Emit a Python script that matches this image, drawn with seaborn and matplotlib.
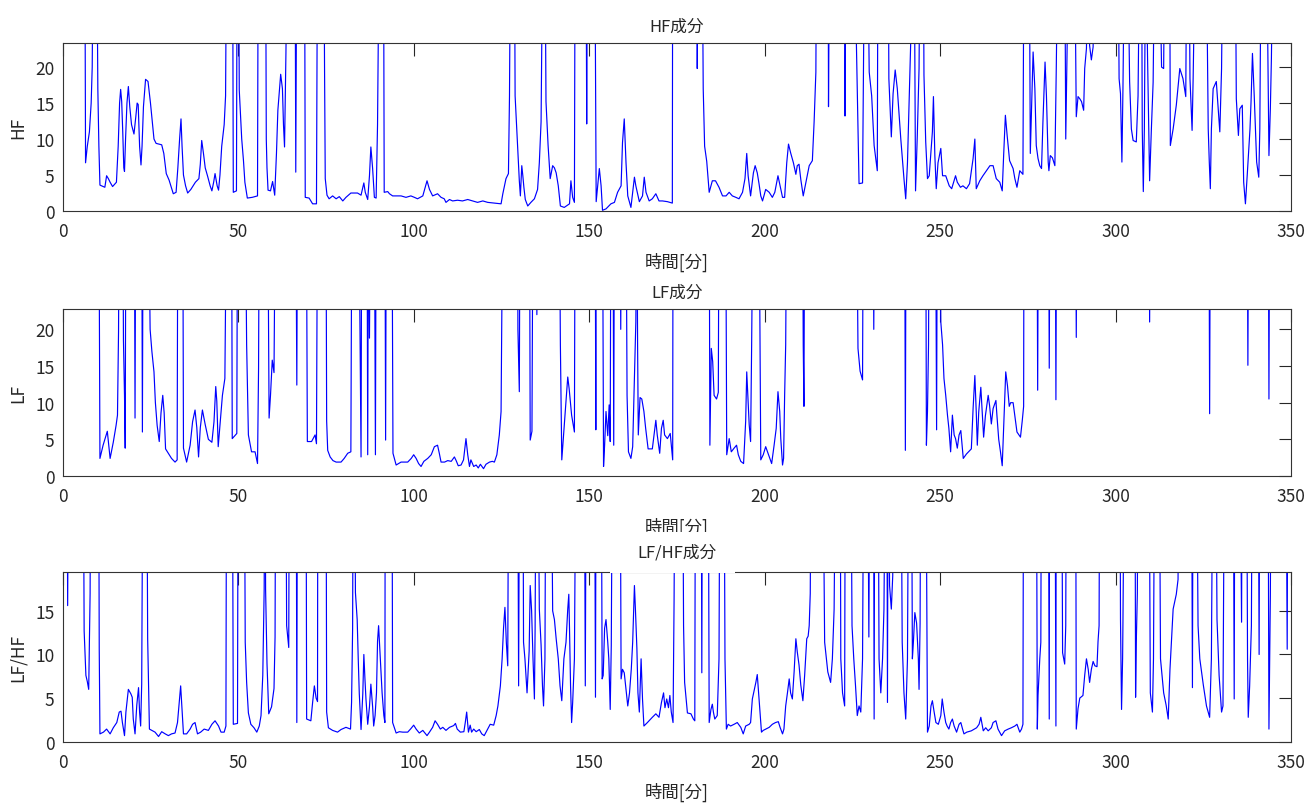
import numpy as np
import pandas as pd
import matplotlib
matplotlib.use('Agg')
import matplotlib.pyplot as plt
import seaborn as sns
from matplotlib.patches import Rectangle

# (minute, value) readings; 40 = above the visible range
hf_points = [
    (6.3, 40), (6.5, 6.7), (7.0, 9.0), (7.6, 11), (8.1, 15), (8.4, 20), (8.7, 40), (9.7, 40), (10.0, 17),
    (10.3, 9), (10.6, 3.6), (11.5, 3.4), (12.0, 3.3), (12.5, 4.9), (13.0, 4.5), (13.5, 4.0), (14.2, 3.4),
    (15.3, 4.0), (15.8, 9), (16.2, 15), (16.5, 16.9), (16.8, 15.2), (17.1, 11), (17.4, 6), (17.6, 5.5),
    (17.9, 10), (18.3, 15), (18.7, 17.3), (19.1, 14.5), (19.6, 12), (20.3, 10.7), (20.8, 13), (21.2, 15),
    (21.5, 14.8), (21.9, 9), (22.3, 6.4), (22.6, 9), (23.0, 14.5), (23.6, 18.3), (24.3, 18.0), (25.0, 15),
    (25.6, 12), (26.0, 10), (26.6, 9.4), (28.2, 9.2), (28.8, 8), (29.5, 5.2), (30.3, 4.3), (31.0, 3.2),
    (31.5, 2.4), (32.3, 2.6), (32.8, 6), (33.3, 10), (33.7, 12.8), (34.0, 9), (34.4, 5), (35.0, 3.5),
    (35.6, 2.5), (36.5, 3.0), (37.8, 4.0), (38.8, 4.5), (39.2, 6.5), (39.6, 9.8), (40.1, 8), (40.6, 6),
    (41.3, 4.8), (42.0, 3.5), (42.5, 2.8), (43.0, 4.0), (43.4, 5.2), (44.0, 3.5), (44.4, 2.9), (44.8, 5),
    (45.3, 9), (46.0, 12), (46.4, 16), (46.7, 40), (48.4, 40), (48.6, 2.6), (49.5, 2.8), (49.7, 40),
    (50.1, 40), (50.3, 16.8), (50.6, 14), (51.0, 10), (51.5, 7), (51.9, 4), (52.6, 1.8), (54.0, 1.9),
    (55.5, 2.1), (55.7, 40), (57.8, 40), (58.0, 10), (58.2, 6), (58.5, 2.9), (59.2, 2.8), (59.8, 4.1),
    (60.4, 2.2), (60.9, 8), (61.3, 14), (62.1, 19), (62.6, 17), (62.9, 12), (63.2, 8.9), (63.6, 22),
    (64.0, 40), (66.2, 40), (66.4, 5.4), (66.7, 40), (68.9, 40), (69.1, 1.9), (70.2, 1.8), (71.2, 1.0),
    (72.3, 1.0), (72.6, 40), (74.4, 40), (74.6, 20), (74.8, 4.5), (75.3, 2.2), (75.9, 1.7), (76.9, 2.1),
    (77.9, 1.7), (78.8, 2.0), (79.8, 1.4), (80.7, 1.9), (82.1, 2.5), (84.0, 2.5), (85.0, 2.2), (85.8, 3.9),
    (86.2, 2.6), (86.9, 1.6), (87.4, 4.9), (87.8, 8.9), (88.3, 5.9), (88.8, 1.9), (89.3, 1.8), (89.7, 12),
    (90.2, 40), (91.4, 40), (91.6, 2.6), (92.6, 2.7), (93.1, 2.4), (94.0, 2.1), (96.4, 2.1), (97.8, 1.9),
    (99.2, 2.1), (100.2, 1.9), (101.1, 1.7), (102.6, 2.1), (103.0, 2.8), (103.8, 4.2), (104.5, 3.0),
    (105.4, 2.1), (106.8, 2.4), (107.8, 1.9), (108.7, 1.7), (109.2, 1.2), (110.2, 1.6), (111.1, 1.4),
    (112.5, 1.5), (113.9, 1.4), (115.4, 1.6), (116.8, 1.4), (118.2, 1.2), (119.7, 1.4), (121.1, 1.2),
    (123.0, 1.1), (124.9, 1.0), (125.4, 2.4), (126.3, 4.5), (127.0, 5.2), (127.3, 16), (127.6, 40),
    (128.7, 40), (128.9, 16), (129.6, 9), (130.1, 4.2), (130.4, 2.1), (130.8, 6.3), (131.1, 4.9),
    (131.4, 3.3), (131.8, 1.6), (132.5, 0.7), (133.4, 1.2), (134.4, 1.7), (135.3, 3.0), (135.8, 6.7),
    (136.3, 12.4), (136.8, 40), (137.4, 40), (137.7, 15.2), (138.3, 9.1), (138.9, 4.5), (139.6, 6.3),
    (140.1, 6.0), (140.6, 5.3), (141.2, 3.5), (141.8, 0.7), (142.9, 0.5), (144.4, 1.0), (144.8, 4.2),
    (145.3, 1.9), (145.8, 1.2), (146.0, 40), (149.1, 40), (149.3, 12.1), (149.5, 40), (151.6, 40),
    (152.0, 1.3), (152.9, 5.9), (153.4, 3.5), (153.8, 0.1), (154.8, 0.3), (156.2, 1.0), (157.2, 1.2),
    (158.1, 2.6), (159.1, 3.5), (159.5, 9.5), (160.0, 12.8), (160.5, 6.7), (161.0, 2.1), (161.9, 0.5),
    (162.9, 4.7), (163.3, 3.5), (164.3, 1.3), (165.2, 2.1), (165.7, 4.7), (166.2, 2.6), (167.1, 1.4),
    (168.0, 1.7), (169.0, 2.4), (169.9, 1.4), (170.9, 1.4), (172.3, 1.3), (173.7, 1.1), (173.8, 40),
    (180.7, 40), (180.8, 19.8), (181.0, 40), (182.2, 40), (182.5, 17), (182.9, 9), (183.5, 6.9),
    (184.2, 2.6), (185.1, 4.2), (186.0, 4.2), (187.0, 3.3), (188.0, 2.1), (189.0, 2.1), (189.9, 2.6),
    (190.8, 2.1), (191.8, 1.9), (192.7, 1.7), (193.7, 2.6), (194.4, 4.5), (194.9, 8.0), (195.3, 4.9),
    (196.0, 2.1), (196.8, 5.3), (197.3, 6.3), (197.9, 5.3), (198.4, 3.8), (198.9, 2.1), (199.4, 1.4),
    (200.3, 3.0), (201.3, 2.6), (202.2, 1.9), (202.9, 2.6), (203.8, 4.9), (204.4, 3.5), (205.1, 1.9),
    (205.7, 1.9), (206.3, 6.7), (206.8, 9.3), (207.4, 8.1), (208.2, 6.7), (208.9, 5.1), (209.3, 6.3),
    (209.8, 6.5), (210.3, 4.4), (211.0, 2.1), (211.7, 3.8), (212.7, 6.3), (213.6, 7.0), (214.1, 12.4),
    (214.6, 19.3), (214.8, 40), (218.1, 40), (218.2, 14.5), (218.5, 40), (222.8, 40), (222.9, 13.2),
    (223.2, 40), (225.5, 40), (226.9, 3.8), (227.9, 3.9), (228.5, 40), (229.3, 40), (229.8, 19.3),
    (230.5, 16), (231.2, 9.1), (232.1, 5.6), (232.3, 40), (235.2, 40), (235.4, 18.4), (236.1, 10.3),
    (236.6, 16.3), (237.2, 19.6), (237.8, 17), (238.8, 10), (239.7, 4.5), (240.2, 1.7), (240.7, 6.7),
    (241.2, 16), (241.6, 23), (241.8, 40), (242.6, 40), (243.0, 2.8), (243.5, 10.5), (244.0, 19.8),
    (244.3, 40), (245.2, 40), (245.4, 18.9), (245.9, 9.6), (246.4, 4.5), (246.9, 4.9), (247.8, 11),
    (248.1, 15.9), (248.5, 7.7), (248.9, 3.1), (249.4, 6.7), (250.2, 8.7), (250.7, 4.9), (251.6, 4.9),
    (252.6, 3.5), (253.3, 3.1), (254.4, 4.9), (254.9, 4.0), (255.8, 3.3), (256.5, 3.5), (257.5, 3.1),
    (258.4, 3.8), (259.4, 7.3), (259.9, 10), (260.3, 3.1), (261.3, 4.2), (262.2, 4.9), (263.2, 5.6),
    (264.2, 6.3), (265.1, 6.3), (266.0, 4.5), (267.0, 4.0), (267.7, 2.8), (268.1, 7.7), (268.6, 13.3),
    (269.1, 10.5), (269.8, 7.0), (270.8, 5.9), (271.3, 4.5), (271.9, 3.3), (272.7, 5.6), (273.6, 5.1),
    (273.9, 40), (275.4, 40), (275.7, 8.0), (276.0, 13.3), (276.5, 22.1), (277.0, 17), (277.4, 9.1),
    (277.9, 7.3), (278.4, 6.3), (278.9, 5.9), (279.3, 12.4), (279.9, 20.7), (280.3, 16), (280.8, 6.8),
    (281.0, 5.6), (281.4, 7.7), (282.0, 7.4), (282.7, 6.3), (283.1, 19.8), (283.6, 40), (285.5, 40),
    (285.8, 10), (286.2, 23), (286.4, 40), (288.3, 40), (288.8, 13.1), (289.3, 15.9), (289.8, 15.6),
    (290.3, 15.2), (290.9, 14.0), (291.2, 19.8), (291.7, 22.6), (292.2, 40), (292.6, 23), (293.1, 21),
    (293.6, 22.8), (294.1, 40), (300.7, 40), (301.0, 18.4), (301.4, 16.3), (301.8, 6.8), (302.1, 17),
    (302.6, 40), (303.4, 40), (304.0, 18), (304.5, 11.4), (305.0, 9.8), (305.9, 9.6), (306.4, 16),
    (306.9, 40), (307.4, 40), (307.6, 11.4), (307.9, 2.7), (308.2, 11.4), (308.6, 40), (309.1, 21.7),
    (309.7, 4.2), (310.2, 11.4), (310.7, 17.9), (311.2, 40), (312.4, 40), (313.1, 20), (313.7, 19.8),
    (314.0, 40), (315.4, 40), (315.6, 9.1), (316.4, 11.4), (317.3, 14.7), (318.3, 19.8), (319.2, 18.4),
    (320.0, 15.9), (320.3, 40), (320.9, 40), (321.2, 18.4), (321.8, 11.2), (322.1, 18.4), (322.8, 40),
    (325.8, 40), (326.4, 11.4), (326.7, 6.8), (327.0, 3.1), (327.3, 11.4), (327.8, 17), (328.7, 18),
    (329.7, 11), (330.2, 19.8), (330.6, 40), (334.1, 40), (334.4, 15.6), (335.0, 10.5), (335.4, 14.2),
    (336.1, 14.7), (336.5, 4), (337.0, 1.0), (337.5, 4.9), (338.3, 11.4), (338.6, 15.2), (339.0, 21.9),
    (339.5, 16.1), (340.2, 6.8), (340.8, 4.7), (341.1, 11.4), (341.5, 40), (343.0, 40), (343.7, 7.7),
    (344.1, 14.2), (344.4, 21.2), (344.9, 40),
]

lf_points = [
    (10.3, 40), (10.6, 2.4), (11.5, 4.2), (12.7, 6.1), (13.5, 2.4), (14.4, 4.6), (15.2, 6.9), (15.6, 8.3),
    (15.9, 19.7), (16.1, 40), (17.1, 40), (17.3, 18.5), (17.6, 11), (17.8, 3.8), (18.0, 40), (20.4, 40),
    (20.6, 7.9), (20.8, 40), (22.5, 40), (22.7, 6.0), (22.9, 40), (24.4, 40), (24.9, 20), (25.4, 17),
    (26.0, 14.2), (26.4, 10), (26.9, 6.9), (27.5, 4.7), (28.0, 8.6), (28.5, 11), (28.9, 8.6), (29.3, 3.7),
    (30.1, 3.1), (31.0, 2.4), (32.0, 1.9), (32.6, 2.2), (32.8, 40), (34.2, 40), (34.4, 3.8), (35.3, 1.9),
    (36.3, 4.2), (37.0, 7.4), (37.7, 9.0), (38.2, 6.6), (38.7, 2.6), (39.2, 6.6), (39.8, 9.0), (40.6, 7.0),
    (41.5, 5.0), (42.5, 4.6), (43.1, 7.4), (43.6, 12.2), (43.9, 10.2), (44.3, 4.0), (44.8, 6.9), (45.5, 11),
    (46.2, 13.3), (46.7, 40), (48.1, 40), (48.3, 5.1), (49.6, 5.8), (49.8, 40), (52.0, 40), (52.4, 17.9),
    (52.9, 5.6), (53.8, 3.3), (54.8, 3.3), (55.5, 1.7), (55.8, 14.7), (56.0, 40), (58.4, 40), (58.8, 7.9),
    (59.2, 11), (59.7, 15.8), (60.2, 14.1), (60.6, 40), (66.4, 40), (66.7, 12.4), (66.9, 40), (69.4, 40),
    (69.7, 4.7), (70.9, 4.7), (71.9, 5.6), (72.3, 4.4), (72.6, 40), (75.0, 40), (75.2, 7.5), (75.5, 3.5),
    (76.2, 2.6), (77.0, 2.1), (77.9, 1.9), (79.3, 1.9), (80.2, 2.4), (81.2, 3.1), (82.1, 3.3), (82.4, 40),
    (84.3, 40), (84.7, 20), (85.0, 2.6), (85.2, 40), (86.7, 40), (86.9, 2.9), (87.1, 40), (87.4, 18.8),
    (87.7, 40), (88.8, 40), (89.1, 2.9), (89.3, 40), (91.8, 40), (92.0, 4.9), (92.2, 40), (93.8, 40),
    (94.1, 3.1), (95.0, 1.5), (96.4, 1.9), (98.3, 1.9), (99.3, 2.4), (100.0, 2.9), (100.7, 2.4),
    (101.4, 1.7), (102.1, 1.3), (102.9, 2.0), (104.0, 2.4), (105.0, 2.9), (105.9, 4.0), (106.8, 4.2),
    (107.3, 3.1), (107.8, 1.9), (108.8, 1.9), (109.7, 2.1), (110.7, 2.0), (111.6, 2.6), (112.1, 2.1),
    (112.7, 1.4), (113.5, 1.5), (114.2, 2.2), (114.9, 5.1), (115.4, 2.9), (115.9, 1.3), (116.3, 2.2),
    (117.1, 1.3), (117.8, 1.5), (118.4, 1.1), (119.0, 1.6), (119.9, 1.0), (120.6, 1.6), (121.6, 1.9),
    (122.4, 2.0), (123.0, 1.9), (123.7, 2.9), (124.4, 5.6), (124.9, 8.8), (125.4, 40), (129.6, 40),
    (129.7, 20), (130.1, 11.5), (130.3, 40), (133.0, 40), (133.2, 4.9), (133.7, 6.1), (134.0, 40),
    (134.9, 40), (135.1, 22), (135.3, 40), (141.5, 40), (141.8, 17.9), (142.2, 2.2), (142.7, 5.6),
    (143.4, 10.2), (143.9, 13.5), (144.3, 11.9), (145.0, 8.3), (145.8, 6.0), (146.0, 40), (151.7, 40),
    (151.9, 6.3), (152.0, 40), (153.8, 40), (154.1, 1.3), (154.4, 4.2), (154.8, 8.8), (155.3, 5.5),
    (155.7, 9.7), (156.0, 4.7), (156.2, 40), (156.8, 40), (157.0, 4.2), (157.2, 40), (158.8, 40),
    (159.0, 20), (159.2, 40), (160.5, 40), (160.8, 11), (161.2, 3.3), (161.9, 2.4), (162.4, 4.0),
    (162.9, 13.3), (163.3, 21), (163.6, 40), (163.8, 17.9), (164.0, 5.6), (164.5, 10.7), (165.0, 10.5),
    (165.6, 8.8), (166.1, 6.5), (166.8, 3.7), (168.0, 3.7), (169.0, 7.6), (169.4, 5.6), (170.1, 3.1),
    (170.6, 6.5), (171.1, 7.6), (171.5, 5.6), (172.3, 5.1), (173.1, 5.8), (173.5, 3.8), (173.8, 2.2),
    (173.9, 40), (184.2, 40), (184.4, 4.2), (184.6, 11), (184.8, 17.4), (185.2, 15.6), (185.6, 11),
    (186.3, 10.5), (186.8, 11.4), (187.0, 40), (188.9, 40), (189.2, 2.9), (189.9, 5.1), (190.5, 3.3),
    (191.3, 3.8), (192.0, 4.2), (192.5, 2.9), (193.2, 2.0), (194.0, 1.7), (194.6, 7.5), (194.9, 14.2),
    (195.2, 11), (195.6, 7.0), (196.0, 4.7), (196.3, 17.9), (196.7, 40), (198.4, 40), (198.9, 2.2),
    (199.6, 2.9), (200.3, 4.0), (201.1, 2.9), (202.0, 1.7), (202.7, 4.2), (203.3, 6.5), (203.8, 11.5),
    (204.3, 8.8), (204.6, 5.1), (205.1, 1.5), (205.4, 2.4), (205.7, 11), (206.0, 17.9), (206.3, 40),
    (210.8, 40), (211.0, 17.9), (211.2, 9.5), (211.4, 40), (226.2, 40), (226.6, 17.4), (227.2, 14.3),
    (227.9, 13.1), (228.1, 40), (230.9, 40), (231.1, 20), (231.3, 40), (239.9, 40), (240.1, 3.5),
    (240.3, 40), (245.9, 40), (246.1, 4.2), (246.4, 8.8), (246.7, 17.9), (246.9, 40), (248.7, 40),
    (249.0, 6.3), (249.2, 40), (249.9, 40), (250.2, 21), (250.7, 17.9), (251.1, 13.3), (251.6, 11),
    (252.1, 8.3), (252.5, 6.5), (253.0, 3.3), (253.5, 8.3), (254.0, 5.6), (254.4, 5.1), (254.9, 3.8),
    (255.4, 5.6), (255.9, 6.2), (256.2, 4.5), (256.6, 2.4), (257.5, 3.0), (258.9, 3.7), (259.4, 9.2),
    (259.9, 13.7), (260.3, 8.7), (260.6, 4.2), (261.0, 8.7), (261.6, 12.1), (262.0, 8.7), (262.4, 5.3),
    (262.9, 8.2), (263.7, 11), (264.1, 9.6), (264.6, 7.1), (265.1, 9.2), (265.9, 10.3), (266.2, 8.2),
    (266.7, 5.0), (267.2, 3.3), (267.7, 1.4), (268.1, 6.4), (268.4, 10.3), (268.7, 14.2), (269.2, 12.3),
    (269.7, 9.5), (270.1, 10), (270.8, 10), (271.3, 8.2), (271.9, 6.0), (272.9, 5.3), (273.4, 7.5),
    (273.8, 9.5), (273.9, 40), (277.6, 40), (277.8, 11.7), (278.0, 40), (280.9, 40), (281.1, 14.7),
    (281.3, 40), (282.8, 40), (283.0, 10.4), (283.2, 40), (288.6, 40), (288.8, 18.9), (289.0, 40),
    (309.5, 40), (309.7, 21), (309.9, 40), (326.6, 40), (326.8, 8.5), (327.0, 40), (337.5, 40),
    (337.7, 15.1), (337.9, 40), (343.5, 40), (343.7, 10.5), (343.9, 40), (345.0, 40),
]

ratio_points = [
    (1.2, 40), (1.4, 15.6), (1.7, 40), (5.8, 40), (6.1, 12.7), (6.6, 7.6), (7.0, 6.9), (7.4, 6.0),
    (7.8, 17), (8.0, 40), (10.2, 40), (10.4, 10.6), (10.6, 0.9), (11.6, 1.1), (12.5, 1.45), (13.5, 0.9),
    (14.4, 1.6), (15.4, 2.2), (16.1, 3.4), (16.6, 3.5), (17.0, 2.2), (17.6, 0.7), (18.0, 3.4), (18.7, 6.0),
    (19.4, 5.5), (19.8, 5.1), (20.1, 2.6), (20.6, 0.9), (21.1, 4.2), (21.6, 6.2), (21.9, 3.4), (22.2, 1.8),
    (22.5, 6.6), (22.9, 40), (23.9, 40), (24.2, 11.8), (24.7, 1.45), (25.4, 1.3), (26.3, 1.1), (27.3, 0.6),
    (28.2, 1.15), (29.2, 0.9), (30.1, 0.7), (31.0, 0.9), (32.0, 1.0), (32.7, 2.2), (33.2, 4.5), (33.6, 6.4),
    (34.1, 3.0), (34.4, 0.9), (35.3, 0.9), (36.3, 1.45), (37.0, 2.0), (37.7, 2.2), (38.4, 0.9), (39.3, 1.1),
    (40.3, 1.45), (41.5, 1.3), (42.5, 2.0), (43.4, 2.4), (44.4, 1.8), (45.1, 1.1), (46.0, 1.1), (46.5, 1.8),
    (46.7, 40), (48.3, 40), (48.6, 2.0), (49.8, 2.1), (50.0, 40), (51.7, 40), (52.0, 11.4), (52.4, 6.8),
    (52.9, 3.3), (53.6, 2.0), (54.5, 1.6), (55.3, 1.1), (56.0, 1.8), (56.5, 3.0), (57.0, 7.6), (57.4, 17.5),
    (57.6, 40), (57.8, 17.5), (58.2, 9), (58.7, 3.2), (59.5, 4.0), (60.2, 6.1), (60.5, 12), (60.7, 40),
    (63.5, 40), (63.8, 13.3), (64.4, 10.8), (64.6, 40), (66.5, 40), (66.7, 2.2), (66.9, 40), (69.3, 40),
    (69.5, 2.6), (70.7, 2.4), (71.2, 4.5), (71.7, 6.4), (72.2, 5.0), (72.6, 4.6), (72.7, 40), (75.0, 40),
    (75.2, 3.4), (75.7, 1.6), (76.9, 1.3), (78.3, 1.1), (79.3, 1.4), (80.7, 1.65), (82.0, 1.45),
    (82.3, 4.5), (82.6, 13), (82.8, 40), (83.1, 40), (83.4, 17.1), (83.9, 14), (84.2, 9.5), (84.5, 5.5),
    (85.0, 1.4), (85.5, 5.5), (85.8, 10), (86.1, 7.3), (86.4, 4.9), (86.9, 2.0), (87.4, 4.0), (87.8, 6.6),
    (88.3, 4.0), (88.6, 1.8), (89.0, 3.0), (89.4, 5.6), (89.7, 11.5), (90.0, 13.3), (90.5, 9.5),
    (91.0, 5.6), (91.5, 3.0), (91.8, 2.2), (91.9, 40), (93.8, 40), (94.0, 2.2), (95.0, 1.0), (95.9, 1.15),
    (96.9, 1.1), (98.3, 1.1), (99.2, 1.5), (100.0, 1.9), (100.7, 1.45), (101.6, 1.0), (102.6, 1.3),
    (103.8, 0.7), (104.5, 1.1), (105.4, 1.65), (106.1, 2.4), (106.8, 2.0), (107.6, 1.45), (108.3, 1.65),
    (109.2, 1.3), (110.2, 1.65), (111.4, 1.85), (111.9, 2.1), (112.4, 1.45), (113.3, 1.1), (114.3, 1.15),
    (114.7, 2.2), (115.1, 3.4), (115.6, 1.1), (116.1, 1.9), (116.5, 1.1), (117.1, 1.45), (117.8, 1.15),
    (118.7, 1.4), (119.4, 0.9), (120.1, 0.7), (121.1, 1.45), (121.8, 2.0), (122.8, 1.9), (123.5, 3.0),
    (124.0, 4.1), (124.7, 6.4), (125.2, 9.5), (125.6, 13), (126.0, 15.4), (126.4, 11.4), (126.8, 8.7),
    (127.1, 40), (129.6, 40), (129.9, 6.4), (130.2, 40), (131.1, 40), (131.3, 11.4), (131.7, 9.5),
    (132.3, 5.6), (132.9, 10.4), (133.2, 17.9), (133.6, 15), (134.0, 9.5), (134.4, 4.9), (134.6, 13),
    (134.9, 40), (135.3, 40), (135.8, 15.2), (136.3, 11.1), (136.7, 6.4), (137.0, 4.1), (137.4, 9.5),
    (137.7, 40), (139.1, 40), (139.6, 15), (140.1, 14), (140.6, 11.8), (141.2, 9.5), (141.7, 6.4),
    (142.2, 4.7), (142.8, 9.5), (143.4, 11.4), (143.9, 15.2), (144.2, 16.9), (144.4, 13), (144.7, 6.4),
    (145.0, 2.2), (145.3, 4.5), (145.8, 9.5), (146.3, 40), (148.6, 40), (148.9, 6.4), (149.2, 40),
    (151.5, 40), (151.8, 5.1), (152.0, 40), (153.4, 40), (153.7, 7.2), (154.0, 7.6), (154.4, 13),
    (154.8, 14), (155.3, 11.4), (155.6, 9.5), (156.0, 3.7), (156.3, 11), (156.7, 40), (158.8, 40),
    (159.1, 7.2), (159.5, 8.3), (160.0, 7.9), (160.5, 6.0), (161.0, 4.1), (161.5, 5.6), (162.0, 8.3),
    (162.4, 11.4), (162.9, 17.9), (163.2, 15), (163.6, 10.7), (163.9, 5.6), (164.3, 3.4), (164.8, 9.5),
    (165.2, 4.9), (165.6, 1.8), (166.6, 2.2), (168.0, 2.8), (169.0, 3.2), (169.9, 2.8), (170.6, 4.5),
    (171.2, 5.6), (171.6, 3.9), (172.1, 4.9), (172.6, 3.9), (173.0, 5.3), (173.4, 3.4), (173.9, 2.2),
    (174.2, 16.3), (174.5, 40), (176.6, 40), (176.9, 13.3), (177.2, 6.8), (178.0, 3.3), (179.0, 3.2),
    (179.7, 2.6), (180.1, 2.4), (180.3, 40), (181.9, 40), (182.1, 7.9), (182.3, 40), (183.9, 40),
    (184.2, 2.2), (184.7, 3.7), (185.1, 4.3), (185.4, 3.4), (185.8, 2.6), (186.5, 3.0), (187.0, 9.5),
    (187.3, 40), (188.4, 40), (188.7, 9.5), (189.1, 1.45), (189.6, 2.0), (190.3, 1.8), (191.3, 2.0),
    (192.2, 2.2), (193.2, 1.65), (193.9, 0.9), (194.6, 1.8), (195.6, 2.0), (196.0, 2.2), (196.5, 4.9),
    (197.5, 6.8), (197.9, 7.7), (198.4, 4.9), (199.1, 1.1), (199.6, 1.3), (200.3, 1.45), (201.3, 1.65),
    (202.2, 2.0), (203.1, 2.2), (203.9, 2.3), (204.4, 1.65), (205.1, 0.9), (205.5, 1.45), (206.0, 4.1),
    (206.5, 5.6), (207.0, 7.2), (207.4, 5.6), (207.9, 4.9), (208.4, 8.0), (208.9, 11.8), (209.3, 10.3),
    (209.8, 8.8), (210.3, 6.5), (210.9, 4.7), (211.4, 7.6), (212.0, 11.8), (212.4, 12.1), (212.7, 13.3),
    (213.0, 17), (213.3, 40), (216.5, 40), (217.1, 11.4), (218.0, 8.0), (218.8, 6.8), (219.3, 9.5),
    (219.8, 15.2), (220.3, 40), (221.5, 40), (221.7, 9.5), (222.2, 5.6), (222.8, 4.1), (223.0, 40),
    (224.5, 40), (224.9, 13.3), (225.4, 9.5), (225.9, 6.4), (226.4, 3.0), (226.9, 4.1), (227.4, 3.4),
    (227.9, 9.5), (228.3, 40), (229.3, 40), (229.7, 12), (230.0, 40), (231.0, 40), (231.2, 2.6),
    (231.4, 40), (232.3, 40), (232.6, 9.5), (233.1, 5.6), (233.6, 9.5), (234.0, 15.2), (234.5, 40),
    (234.8, 40), (235.0, 4.5), (235.2, 40), (235.6, 17.9), (236.1, 15.2), (236.5, 19), (236.8, 40),
    (238.8, 40), (239.2, 11.4), (239.7, 5.6), (240.2, 2.6), (240.7, 9.5), (241.1, 40), (241.8, 40),
    (242.1, 9.5), (242.4, 11.5), (242.8, 14.8), (243.3, 13.6), (243.8, 9.5), (244.0, 6.0), (244.3, 13.6),
    (244.5, 40), (245.9, 40), (246.4, 1.1), (246.9, 1.8), (247.4, 4.1), (247.8, 4.7), (248.3, 3.4),
    (248.8, 2.2), (249.5, 2.0), (250.2, 3.0), (250.6, 4.9), (251.1, 3.4), (251.6, 2.2), (252.0, 1.8),
    (252.5, 1.45), (253.0, 2.2), (253.5, 2.6), (254.0, 1.8), (254.7, 1.1), (255.4, 2.0), (255.9, 2.2),
    (256.4, 1.45), (256.8, 0.9), (257.6, 1.1), (258.9, 1.25), (260.4, 1.6), (261.1, 2.0), (261.6, 2.8),
    (262.3, 1.25), (263.0, 1.6), (263.7, 1.25), (264.6, 1.6), (265.1, 2.2), (265.9, 2.4), (266.5, 1.45),
    (267.5, 0.7), (268.4, 1.25), (269.4, 1.45), (270.3, 1.6), (271.3, 1.8), (271.9, 2.0), (272.7, 1.1),
    (273.2, 1.45), (273.6, 2.0), (273.8, 40), (277.4, 40), (277.7, 1.45), (277.9, 5.3), (278.4, 9.5),
    (278.7, 11.4), (278.9, 40), (280.8, 40), (281.1, 2.6), (281.2, 40), (282.7, 40), (283.0, 1.8),
    (283.1, 40), (284.6, 40), (284.9, 10.2), (285.5, 8.9), (285.8, 13.3), (286.0, 40), (288.6, 40),
    (288.8, 1.45), (289.3, 3.8), (289.8, 5.0), (290.7, 5.3), (291.2, 7.6), (291.7, 9.5), (292.2, 8.3),
    (292.6, 6.8), (293.1, 8.3), (293.6, 9.2), (294.1, 8.7), (294.7, 8.6), (295.0, 11.5), (295.3, 13.3),
    (295.5, 40), (301.2, 40), (301.4, 14), (301.7, 3.7), (302.0, 9.5), (302.1, 13.7), (302.6, 40),
    (305.5, 40), (305.7, 5.1), (305.9, 11.4), (306.2, 17), (306.5, 40), (309.5, 40), (309.9, 5.6),
    (310.5, 3.4), (310.8, 9.5), (311.2, 40), (312.4, 40), (312.8, 9.5), (313.7, 5.6), (314.4, 4.2),
    (315.0, 2.6), (315.5, 8.3), (316.4, 15.2), (317.3, 16.9), (317.8, 18.6), (318.0, 40), (321.6, 40),
    (321.9, 6.2), (322.1, 40), (323.0, 40), (323.5, 13.3), (324.0, 9.5), (325.0, 6.5), (325.9, 4.1),
    (326.8, 2.8), (327.3, 9.5), (327.8, 40), (328.5, 40), (328.9, 14), (329.5, 7.6), (330.2, 3.4),
    (330.6, 4.1), (331.1, 40), (333.5, 40), (333.8, 4.9), (334.0, 40), (335.4, 40), (335.9, 13.7),
    (336.1, 40), (337.3, 40), (337.6, 9.5), (337.8, 2.8), (338.2, 6.4), (338.7, 13.3), (339.0, 40),
    (340.6, 40), (340.9, 10), (341.1, 40), (343.4, 40), (343.7, 1.45), (344.1, 16.7), (344.4, 40),
    (348.5, 40), (348.9, 10.6), (349.1, 40),
]

x_ticks = [0, 50, 100, 150, 200, 250, 300, 350]
xlabel = '時間[分]'

sns.set_style('white')
plt.rcParams['font.family'] = ['Noto Sans CJK JP', 'DejaVu Sans']
plt.rcParams['axes.unicode_minus'] = False

fig = plt.figure(figsize=(13.07, 8.04), dpi=100)

# panel: data, ylabel, title, ymax, yticks, axes rect (figure fraction)
panels = [
    (hf_points, 'HF', 'HF成分', 23.35, [0, 5, 10, 15, 20], [0.048, 0.7363, 0.9398, 0.2090]),
    (lf_points, 'LF', 'LF成分', 22.77, [0, 5, 10, 15, 20], [0.048, 0.4067, 0.9398, 0.2077]),
    (ratio_points, 'LF/HF', None, 19.45, [0, 5, 10, 15], [0.048, 0.0762, 0.9398, 0.2111]),
]

for pts, ylab, title, ymax, yt, rect in panels:
    ax = fig.add_axes(rect)
    df = pd.DataFrame(pts, columns=['t', 'v'])
    sns.lineplot(data=df, x='t', y='v', ax=ax, color='#0000ff', lw=0.85,
                 estimator=None, sort=False)
    ax.set_xlim(0, 350)
    ax.set_ylim(0, ymax)
    ax.set_xticks(x_ticks)
    ax.set_yticks(yt)
    ax.tick_params(direction='in', length=9, width=0.8, top=True, right=True,
                   labelsize=12.5, colors='#262626')
    ax.tick_params(axis='x', pad=8)
    ax.tick_params(axis='y', pad=6)
    for s in ax.spines.values():
        s.set_color('#333333')
        s.set_linewidth(0.8)
    ax.set_xlabel(xlabel, fontsize=12.5, labelpad=8)
    ax.set_ylabel(ylab, fontsize=12.5, labelpad=6)
    if title:
        ax.set_title(title, fontsize=12, pad=9)

# white title box of the bottom panel, sitting over its top edge
fig.add_artist(Rectangle((0.4667, 0.2861), 0.0957, 0.0510, transform=fig.transFigure,
                         facecolor='white', edgecolor='none', zorder=5))
fig.text(0.518, 0.312, 'LF/HF成分', ha='center', va='center', fontsize=12, zorder=6)

fig.savefig('out.png', dpi=100)
